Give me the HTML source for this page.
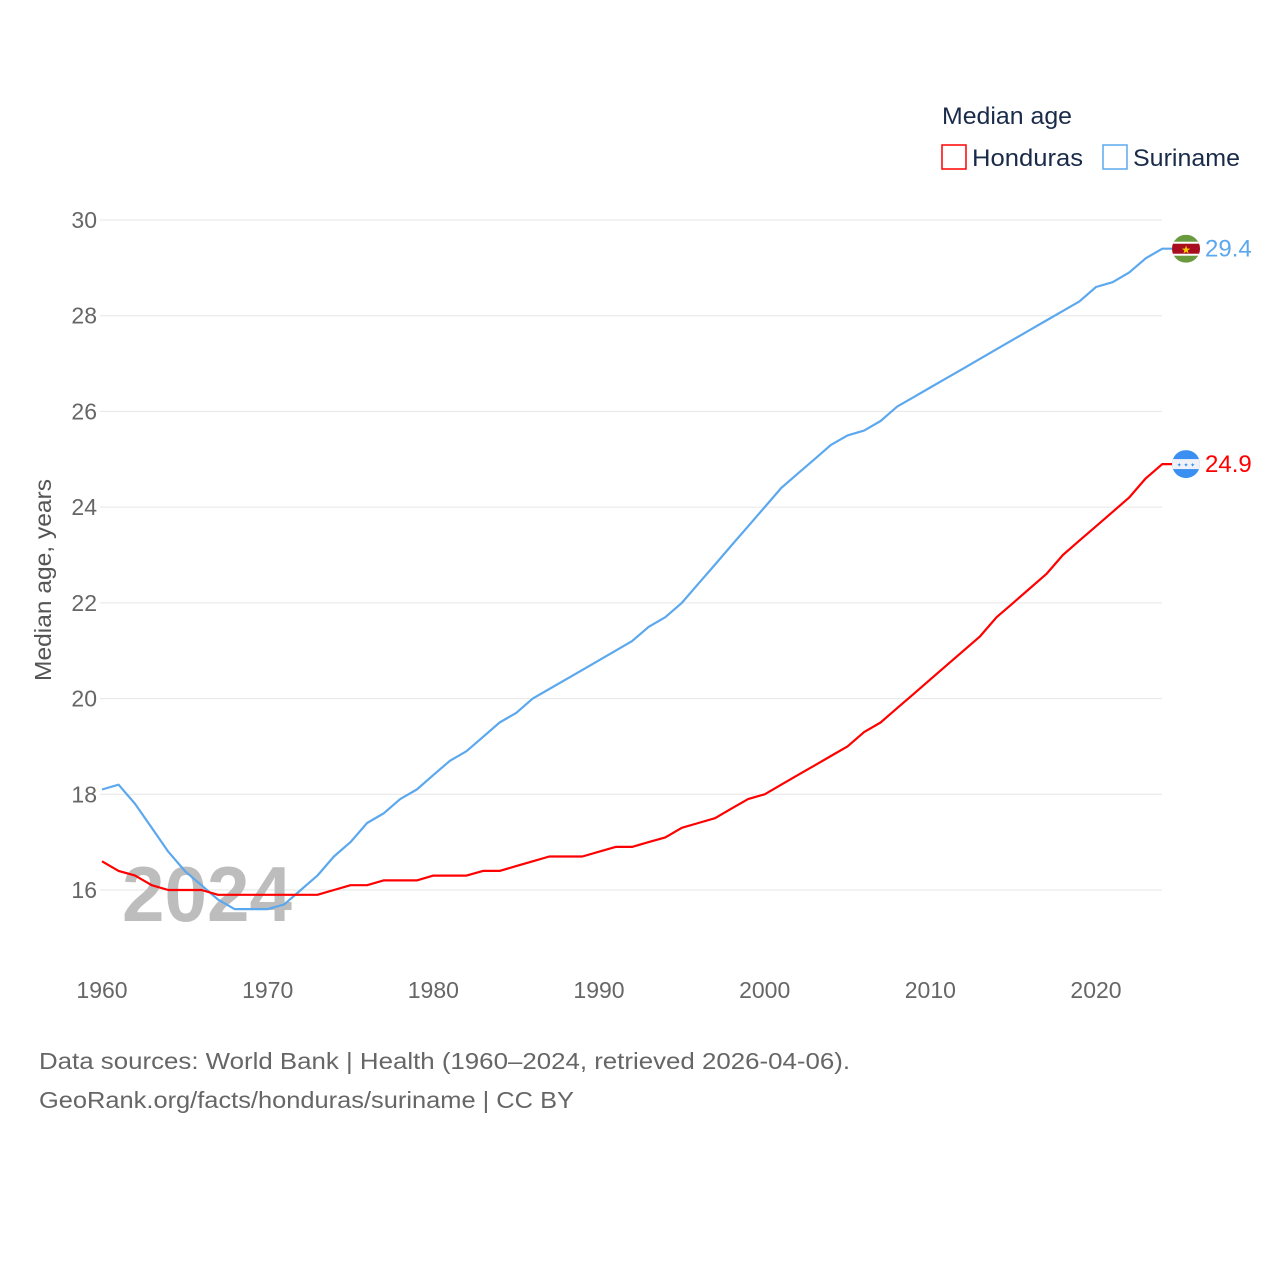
<!DOCTYPE html>
<html><head><meta charset="utf-8"><style>
body{margin:0;background:#fff;font-family:"Liberation Sans",sans-serif}
svg{display:block}
</style></head><body>
<svg id="chart" width="1280" height="1280" xmlns="http://www.w3.org/2000/svg">
<g id="grid"></g>
<text x="122" y="921" font-size="78" font-weight="bold" fill="#bdbdbd" textLength="170" lengthAdjust="spacingAndGlyphs">2024</text>
<g id="series"></g>
<text transform="translate(51,580) rotate(-90)" text-anchor="middle" font-size="23" fill="#555" textLength="202" lengthAdjust="spacingAndGlyphs">Median age, years</text>
<text x="942" y="124" font-size="24" fill="#1a2b4a" textLength="130" lengthAdjust="spacingAndGlyphs">Median age</text>
<g><rect x="942" y="145" width="24" height="24" fill="none" stroke="#ff0000" stroke-width="1.5"/><text x="972" y="166" font-size="24" fill="#1a2b4a" textLength="111" lengthAdjust="spacingAndGlyphs">Honduras</text></g>
<g><rect x="1103" y="145" width="24" height="24" fill="none" stroke="#5ca8ee" stroke-width="1.5"/><text x="1133" y="166" font-size="24" fill="#1a2b4a" textLength="107" lengthAdjust="spacingAndGlyphs">Suriname</text></g>
<text x="39" y="1069" font-size="23" fill="#666" textLength="811" lengthAdjust="spacingAndGlyphs">Data sources: World Bank | Health (1960–2024, retrieved 2026-04-06).</text>
<text x="39" y="1108" font-size="23" fill="#666" textLength="535" lengthAdjust="spacingAndGlyphs">GeoRank.org/facts/honduras/suriname | CC BY</text>
</svg>
<script>
const years=[];for(let y=1960;y<=2024;y++)years.push(y);
const yTicks=[16,18,20,22,24,26,28,30];
const xTicks=[1960,1970,1980,1990,2000,2010,2020];
const suriname=[18.1,18.2,17.8,17.3,16.8,16.4,16.1,15.8,15.6,15.6,15.6,15.7,16.0,16.3,16.7,17.0,17.4,17.6,17.9,18.1,18.4,18.7,18.9,19.2,19.5,19.7,20.0,20.2,20.4,20.6,20.8,21.0,21.2,21.5,21.7,22.0,22.4,22.8,23.2,23.6,24.0,24.4,24.7,25.0,25.3,25.5,25.6,25.8,26.1,26.3,26.5,26.7,26.9,27.1,27.3,27.5,27.7,27.9,28.1,28.3,28.6,28.7,28.9,29.2,29.4];
const honduras=[16.6,16.4,16.3,16.1,16.0,16.0,16.0,15.9,15.9,15.9,15.9,15.9,15.9,15.9,16.0,16.1,16.1,16.2,16.2,16.2,16.3,16.3,16.3,16.4,16.4,16.5,16.6,16.7,16.7,16.7,16.8,16.9,16.9,17.0,17.1,17.3,17.4,17.5,17.7,17.9,18.0,18.2,18.4,18.6,18.8,19.0,19.3,19.5,19.8,20.1,20.4,20.7,21.0,21.3,21.7,22.0,22.3,22.6,23.0,23.3,23.6,23.9,24.2,24.6,24.9];
const NS="http://www.w3.org/2000/svg";
const X=v=>102+(v-1960)*(1096-102)/60;
const Y=v=>220+(30-v)*(890-220)/14;
function mk(t,a,p){const e=document.createElementNS(NS,t);for(const k in a)e.setAttribute(k,a[k]);p.appendChild(e);return e;}
const grid=document.getElementById('grid');
yTicks.forEach(v=>{
  const l=mk('line',{x1:100,x2:1162,y1:Y(v),y2:Y(v),stroke:'#e6e6e6','stroke-width':1},grid);
  
  
  const t=mk('text',{x:97,y:Y(v)+8,'text-anchor':'end','font-size':23,fill:'#666'},grid);t.textContent=v;
  
  
});
xTicks.forEach(v=>{
  const t=mk('text',{x:X(v),y:998,'text-anchor':'middle','font-size':23,fill:'#666'},grid);t.textContent=v;
  
  
});
const sg=document.getElementById('series');
function line(data,color,name){
  const last=data[data.length-1];
  const d=data.map((v,i)=>(i?'L':'M')+X(years[i]).toFixed(1)+','+Y(v).toFixed(1)).join(' ')+' L1178,'+Y(last).toFixed(1);
  const p=mk('path',{d:d,fill:'none',stroke:color,'stroke-width':2.2,'stroke-linejoin':'round'},sg);
  
  
  const t=mk('text',{x:1205,y:Y(last)+8,'font-size':24,fill:color},sg);t.textContent=last.toFixed(1);
  
  
  return Y(last);
}
const ys=line(suriname,'#5ca8ee','suriname');
const yh=line(honduras,'#ff0000','honduras');
let g=mk('g',{},sg);


const c1=mk('clipPath',{id:'c1'},g);mk('circle',{cx:1186,cy:ys,r:14},c1);
const gs=mk('g',{'clip-path':'url(#c1)'},g);
mk('rect',{x:1172,y:ys-14,width:28,height:28,fill:'#6a9a3e'},gs);
mk('rect',{x:1172,y:ys-7,width:28,height:14,fill:'#fff'},gs);
mk('rect',{x:1172,y:ys-5,width:28,height:10,fill:'#a80e1f'},gs);
mk('text',{x:1186,y:ys+5,'text-anchor':'middle','font-size':11,fill:'#f5d000'},gs).textContent='★';
g=mk('g',{},sg);


const c2=mk('clipPath',{id:'c2'},g);mk('circle',{cx:1186,cy:yh,r:14},c2);
const gh=mk('g',{'clip-path':'url(#c2)'},g);
mk('rect',{x:1172,y:yh-14,width:28,height:28,fill:'#3b8ff0'},gh);
mk('rect',{x:1172,y:yh-5,width:28,height:10,fill:'#eef2f6'},gh);
mk('text',{x:1186,y:yh+3,'text-anchor':'middle','font-size':6,fill:'#3b8ff0'},gh).textContent='✦ ✦ ✦';
</script>
</body></html>
